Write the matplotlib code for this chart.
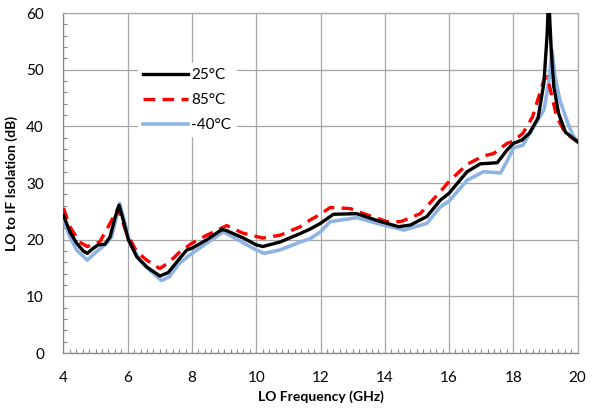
import numpy as np
import matplotlib
matplotlib.use("Agg")
import matplotlib.pyplot as plt
from matplotlib.ticker import MultipleLocator

plt.rcParams['font.family'] = ['Lato', 'DejaVu Sans']

# LO frequency (GHz) / isolation (dB), one pair of lists per temperature
f_25 = [4.0, 4.2, 4.41, 4.62, 4.74, 4.93, 5.08, 5.29, 5.45, 5.6, 5.73, 5.86, 6.02, 6.28, 6.59,
        7.0, 7.26, 7.53, 7.84, 8.0, 8.46, 8.93, 9.08, 9.6, 10.0, 10.2, 10.74, 11.37, 11.68, 12.0,
        12.4, 13.13, 13.76, 14.43, 14.8, 15.31, 15.73, 16.0, 16.56, 16.97, 17.5, 17.8, 18.0,
        18.27, 18.5, 18.77, 18.95, 19.05, 19.1, 19.18, 19.26, 19.41, 19.62, 20.0]
v_25 = [24.3, 21.4, 19.4, 18.0, 17.6, 18.5, 19.1, 19.2, 20.5, 23.8, 26.1, 23.5, 20.0, 17.0, 15.2,
        13.6, 14.2, 16.1, 18.2, 18.5, 20.0, 21.8, 21.6, 20.3, 19.1, 18.8, 19.6, 21.1, 21.9, 22.9,
        24.5, 24.6, 23.4, 22.3, 22.6, 24.1, 27.0, 28.2, 32.0, 33.4, 33.6, 35.8, 37.0,
        37.6, 38.8, 41.5, 47.6, 56.0, 63.0, 53.5, 47.0, 42.3, 39.0, 37.3]

f_85 = [4.0, 4.2, 4.5, 4.74, 5.13, 5.45, 5.7, 5.96, 6.28, 6.59, 7.0, 7.3, 7.63, 8.0, 8.46,
        9.08, 9.57, 10.2, 10.74, 11.37, 11.68, 12.0, 12.3, 12.93, 13.35, 14.07, 14.5, 15.1,
        15.73, 16.0, 16.56, 17.07, 17.38, 17.8, 18.0, 18.3, 18.6, 18.95, 19.05, 19.18, 19.35,
        19.62, 20.0]
v_85 = [25.6, 22.3, 19.6, 18.8, 19.6, 22.9, 25.6, 21.2, 17.9, 16.4, 14.9, 16.1, 17.9, 19.4, 20.8,
        22.5, 21.2, 20.3, 20.8, 22.3, 23.5, 24.5, 25.7, 25.5, 24.6, 23.2, 23.2, 24.6,
        28.5, 30.3, 33.3, 34.8, 35.2, 37.0, 37.4, 38.8, 41.7, 48.2, 48.8, 45.8, 41.7,
        38.8, 37.3]

f_m40 = [4.0, 4.2, 4.41, 4.74, 5.03, 5.29, 5.5, 5.75, 5.9, 6.07, 6.38, 6.69, 7.05, 7.3, 7.6,
         8.0, 8.46, 8.98, 10.0, 10.25, 10.74, 11.37, 11.68, 12.0, 12.3, 13.13, 13.76, 14.6,
         15.31, 15.73, 16.0, 16.56, 17.07, 17.6, 17.8, 18.0, 18.3, 18.6, 18.95, 19.1, 19.2,
         19.3, 19.45, 19.7, 19.85, 20.0]
v_m40 = [23.5, 20.5, 18.2, 16.4, 17.9, 19.1, 20.5, 26.4, 23.2, 19.4, 16.4, 14.6, 12.8, 13.5, 15.8,
         17.6, 19.4, 21.4, 18.2, 17.6, 18.2, 19.6, 20.2, 21.4, 23.2, 23.9, 22.9, 21.7,
         22.9, 25.8, 26.8, 30.5, 32.0, 31.8, 33.8, 36.2, 36.7, 39.6, 42.9, 47.6, 53.5,
         48.8, 44.6, 40.5, 38.5, 37.3]

fig = plt.figure(figsize=(5.93, 4.11), dpi=100)
ax = fig.add_axes([0.107, 0.141, 0.867, 0.827])

ax.plot(f_m40, v_m40, color='#8DB4E2', lw=2.6, label='-40°C', zorder=3)
ax.plot(f_25, v_25, color='black', lw=2.4, label='25°C', zorder=5)
ax.plot(f_85, v_85, color='#FF0000', lw=2.4, ls=(0, (3.5, 2.2)), label='85°C', zorder=4)

ax.set_xlim(4, 20)
ax.set_ylim(0, 60)
ax.xaxis.set_major_locator(MultipleLocator(2))
ax.xaxis.set_minor_locator(MultipleLocator(0.2))
ax.yaxis.set_major_locator(MultipleLocator(10))
ax.yaxis.set_minor_locator(MultipleLocator(2))

ax.grid(which='major', color='#A6A6A6', lw=0.9)
ax.set_axisbelow(True)
ax.tick_params(which='major', length=0, labelsize=11)
ax.tick_params(axis='x', which='major', pad=13)
ax.tick_params(axis='y', which='major', pad=14)
ax.tick_params(which='minor', direction='in', length=3, color='#868686', width=0.8)
for s in ax.spines.values():
    s.set_color('#A6A6A6')
    s.set_linewidth(0.9)
ax.spines['left'].set_color('#868686')
ax.spines['bottom'].set_color('#868686')

ax.set_xlabel('LO Frequency (GHz)', fontsize=10, fontweight='bold')
ax.set_ylabel('LO to IF Isolation (dB)', fontsize=10, fontweight='bold')
ax.xaxis.set_label_coords(0.5, -0.11)
ax.yaxis.set_label_coords(-0.088, 0.5)

h, l = ax.get_legend_handles_labels()
order = [1, 2, 0]
leg = ax.legend([h[i] for i in order], [l[i] for i in order], loc='upper left',
                bbox_to_anchor=(0.13, 0.875), frameon=True, fontsize=11,
                handlelength=3.0, handletextpad=0.2, labelspacing=0.72,
                borderpad=0.3, fancybox=False)
leg.get_frame().set_edgecolor('white')
leg.get_frame().set_facecolor('white')
leg.get_frame().set_alpha(1)

fig.savefig('out.png', dpi=100)
